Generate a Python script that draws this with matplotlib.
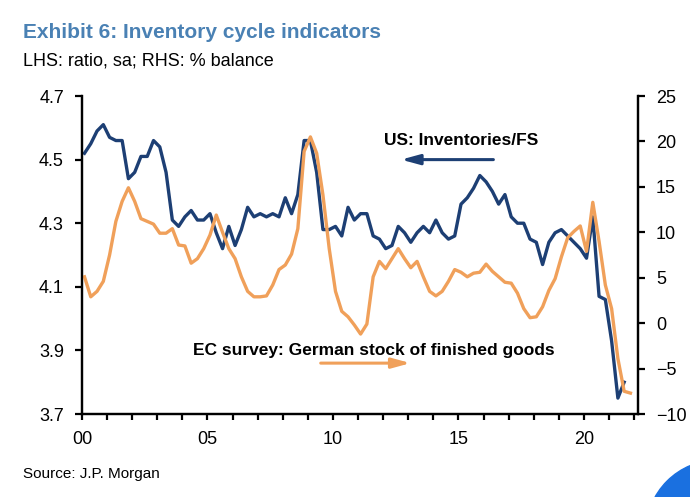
import matplotlib.pyplot as plt
from matplotlib.patches import Circle
from matplotlib.transforms import IdentityTransform
import numpy as np

# quarterly readings, first point ~2000.1
us_inv_fs = [4.52, 4.55, 4.59, 4.61,
             4.57, 4.56, 4.56, 4.44,
             4.46, 4.51, 4.51, 4.56,
             4.54, 4.46, 4.31, 4.29,
             4.32, 4.34, 4.31, 4.31,
             4.33, 4.27, 4.22, 4.29,
             4.23, 4.28, 4.35, 4.32,
             4.33, 4.32, 4.33, 4.32,
             4.38, 4.33, 4.39, 4.56,
             4.56, 4.46, 4.28, 4.28,
             4.29, 4.26, 4.35, 4.31,
             4.33, 4.33, 4.26, 4.25,
             4.22, 4.23, 4.29, 4.27,
             4.24, 4.27, 4.29, 4.27,
             4.31, 4.27, 4.25, 4.26,
             4.36, 4.38, 4.41, 4.45,
             4.43, 4.40, 4.36, 4.39,
             4.32, 4.30, 4.30, 4.25,
             4.24, 4.17, 4.24, 4.27,
             4.28, 4.26, 4.24, 4.22,
             4.19, 4.32, 4.07, 4.06,
             3.93, 3.75, 3.80]

ec_german_stock = [5.1, 2.9, 3.5, 4.6,
                   7.5, 11.2, 13.4, 14.9,
                   13.4, 11.5, 11.2, 10.9,
                   9.9, 9.9, 10.4, 8.6,
                   8.5, 6.6, 7.1, 8.2,
                   9.7, 11.9, 10.0, 8.2,
                   7.1, 5.1, 3.5, 2.9,
                   2.9, 3.0, 4.2, 5.9,
                   6.4, 7.6, 10.4, 18.9,
                   20.5, 18.7, 14.1, 8.2,
                   3.5, 1.3, 0.7, -0.2,
                   -1.2, -0.1, 5.1, 6.8,
                   6.0, 7.1, 8.2, 7.1,
                   6.1, 6.8, 5.1, 3.5,
                   3.0, 3.5, 4.6, 5.9,
                   5.6, 5.1, 5.5, 5.6,
                   6.5, 5.7, 5.1, 4.5,
                   4.4, 3.3, 1.6, 0.6,
                   0.7, 1.8, 3.6, 4.9,
                   7.3, 9.4, 10.1, 10.7,
                   7.9, 13.3, 9.0, 4.2,
                   1.6, -3.9, -7.5, -7.7]

years = list(range(2000, 2023))
year_labels = ['00', '', '', '', '', '05', '', '', '', '', '10', '', '', '', '',
               '15', '', '', '', '', '20', '', '']
lhs_ticks = [3.7, 3.9, 4.1, 4.3, 4.5, 4.7]
rhs_ticks = [-10, -5, 0, 5, 10, 15, 20, 25]

blue = '#1d3f74'
orange = '#f0a05a'
plt.rcParams['font.family'] = ['Liberation Sans', 'DejaVu Sans']

t_us = 2000.1 + 0.25 * np.arange(len(us_inv_fs))
t_ec = 2000.1 + 0.25 * np.arange(len(ec_german_stock))

fig = plt.figure(figsize=(6.9, 4.97), dpi=100)
ax = fig.add_axes([0.1188, 0.167, 0.8058, 0.6398])
ax2 = ax.twinx()

ax.plot(t_us, us_inv_fs, color=blue, linewidth=2.4)
ax2.plot(t_ec, ec_german_stock, color=orange, linewidth=2.4)

ax.set_xlim(2000, 2022.15)
ax.set_ylim(3.7, 4.7)
ax2.set_ylim(-10, 25)
ax.set_xticks(years)
ax.set_xticklabels(year_labels)
ax.set_yticks(lhs_ticks)
ax.set_yticklabels(['%.1f' % v for v in lhs_ticks])
ax2.set_yticks(rhs_ticks)

for a in (ax, ax2):
    a.spines['top'].set_visible(False)
    for s in ('left', 'right', 'bottom'):
        a.spines[s].set_linewidth(1.6)
    a.tick_params(width=1.6, length=5, labelsize=13, direction='out')
ax.tick_params(axis='x', length=4, pad=8)
ax.tick_params(axis='y', pad=8)
ax2.tick_params(axis='y', pad=8)

# series labels with arrows
ax.text(2015.1, 4.56, 'US: Inventories/FS', fontsize=12.5, fontweight='bold',
        ha='center', va='center')
ax.annotate('', xy=(2012.6, 4.5), xytext=(2016.5, 4.5),
            arrowprops=dict(arrowstyle='-|>,head_length=1.1,head_width=0.3',
                            color=blue, lw=2.2))
ax.text(2011.63, 3.90, 'EC survey: German stock of finished goods', fontsize=12.5,
        fontweight='bold', ha='center', va='center')
ax.annotate('', xy=(2013.2, 3.86), xytext=(2009.4, 3.86),
            arrowprops=dict(arrowstyle='-|>,head_length=1.1,head_width=0.3',
                            color=orange, lw=2.2))

fig.text(0.033, 0.935, 'Exhibit 6: Inventory cycle indicators', fontsize=15,
         fontweight='bold', color='#4a81b4', va='center')
fig.text(0.033, 0.877, 'LHS: ratio, sa; RHS: % balance', fontsize=13, va='center')
fig.text(0.033, 0.046, 'Source: J.P. Morgan', fontsize=11, va='center')

# blue badge in the corner (pixel coords)
fig.patches.append(Circle((718, -35), 72, transform=IdentityTransform(),
                          color='#1a70e0', clip_on=False))

fig.savefig('out.png', dpi=100)
